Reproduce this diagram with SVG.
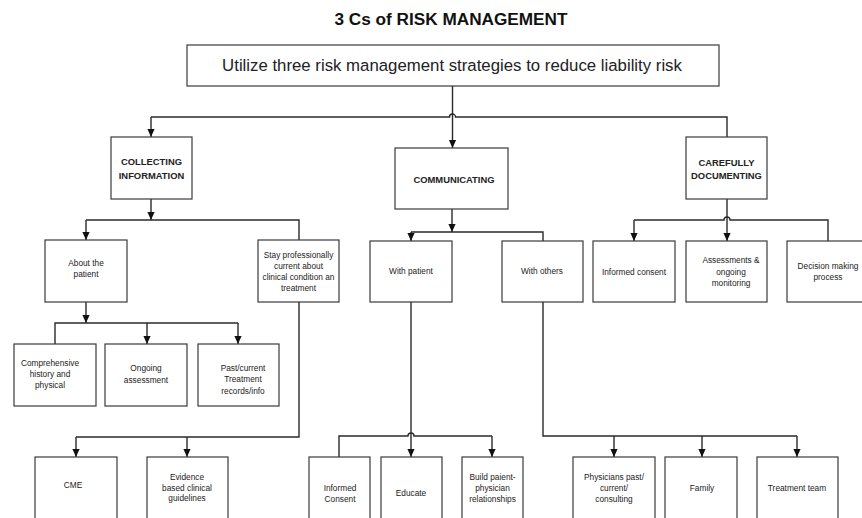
<svg xmlns="http://www.w3.org/2000/svg" width="862" height="518" viewBox="0 0 862 518">
<style>
  .bx{fill:#fff;stroke:#3a3a3a;stroke-width:1.2}
  .ln{fill:none;stroke:#2a2a2a;stroke-width:1.4}
  .ar{marker-end:url(#ah)}
  text{font-family:"Liberation Sans",Arial,sans-serif;fill:#222;text-anchor:middle}
  .t{font-size:8.3px}
  .b{font-size:9.4px;font-weight:bold}
</style>
<defs>
  <marker id="ah" markerUnits="userSpaceOnUse" markerWidth="8" markerHeight="9" viewBox="0 0 10 10" refX="10" refY="5" orient="auto">
    <path d="M0,0.5 L10,5 L0,9.5 z" fill="#111"/>
  </marker>
</defs>
<rect width="862" height="518" fill="#fff"/>
<text x="451" y="25" style="font-size:17.2px;font-weight:bold;fill:#111">3 Cs of RISK MANAGEMENT</text>

<g id="connectors">
  <path class="ln ar" d="M452.5,86 V148"/>
  <path class="ln" d="M151,117 H449.5 A3,3 0 0 1 455.5,117 H727 V137"/>
  <path class="ln ar" d="M151,117 V137"/>
  <path class="ln ar" d="M151,199 V220"/>
  <path class="ln" d="M86,220 H299 V240"/>
  <path class="ln ar" d="M86,220 V240"/>
  <path class="ln ar" d="M86,302 V323"/>
  <path class="ln" d="M55,344 V323 H238"/>
  <path class="ln ar" d="M147,323 V344"/>
  <path class="ln ar" d="M238,323 V344"/>
  <path class="ln" d="M299,302 V437 H76"/>
  <path class="ln ar" d="M76,437 V457"/>
  <path class="ln ar" d="M187,437 V457"/>
  <path class="ln ar" d="M452,209 V232"/>
  <path class="ln" d="M411,232 H543 V241"/>
  <path class="ln ar" d="M411,232 V241"/>
  <path class="ln ar" d="M411,302 V457"/>
  <path class="ln" d="M339,457 V436 H408 A3,3 0 0 1 414,436 H492"/>
  <path class="ln ar" d="M492,436 V457"/>
  <path class="ln" d="M543,302 V436 H797"/>
  <path class="ln ar" d="M614,436 V457"/>
  <path class="ln ar" d="M702,436 V457"/>
  <path class="ln ar" d="M797,436 V457"/>
  <path class="ln ar" d="M727,199 V241"/>
  <path class="ln" d="M634,220 H724 A3,3 0 0 1 730,220 H828 V241"/>
  <path class="ln ar" d="M634,220 V241"/>
</g>

<g id="main"><rect class="bx" x="187" y="45" width="532" height="41"/><text x="452" y="71" style="font-size:16.8px">Utilize three risk management strategies to reduce liability risk</text></g>

<g id="collecting"><rect class="bx" x="111" y="137" width="81" height="62"/><text class="b" x="151.5" y="165">COLLECTING</text><text class="b" x="151.5" y="178.5">INFORMATION</text></g>
<g id="communicating"><rect class="bx" x="395" y="148" width="113" height="61"/><text class="b" x="454" y="182.5">COMMUNICATING</text></g>
<g id="documenting"><rect class="bx" x="686" y="137" width="81" height="62"/><text class="b" x="726.5" y="165.5">CAREFULLY</text><text class="b" x="726.5" y="178.5">DOCUMENTING</text></g>

<g id="about"><rect class="bx" x="45" y="240" width="82" height="62"/><text class="t" x="86" y="266">About the</text><text class="t" x="86" y="277">patient</text></g>
<g id="stay"><rect class="bx" x="258" y="240" width="81" height="62"/><text class="t" x="298.5" y="258">Stay professionally</text><text class="t" x="298.5" y="269">current about</text><text class="t" x="298.5" y="280">clinical condition an</text><text class="t" x="298.5" y="291">treatment</text></g>
<g id="comprehensive"><rect class="bx" x="14" y="344" width="82" height="62"/><text class="t" x="50" y="366">Comprehensive</text><text class="t" x="50" y="377">history and</text><text class="t" x="50" y="388">physical</text></g>
<g id="ongoing"><rect class="bx" x="105" y="344" width="82" height="62"/><text class="t" x="146" y="371">Ongoing</text><text class="t" x="146" y="383">assessment</text></g>
<g id="past"><rect class="bx" x="198" y="344" width="81" height="62"/><text class="t" x="243" y="371">Past/current</text><text class="t" x="243" y="382">Treatment</text><text class="t" x="243" y="394">records/info</text></g>
<g id="cme"><rect class="bx" x="35" y="457" width="82" height="70"/><text class="t" x="73" y="488">CME</text></g>
<g id="evidence"><rect class="bx" x="147" y="457" width="81" height="70"/><text class="t" x="187" y="480">Evidence</text><text class="t" x="187" y="490.5">based clinical</text><text class="t" x="187" y="501">guidelines</text></g>

<g id="with-patient"><rect class="bx" x="370" y="241" width="82" height="61"/><text class="t" x="411" y="274">With patient</text></g>
<g id="with-others"><rect class="bx" x="502" y="241" width="81" height="61"/><text class="t" x="542" y="274">With others</text></g>
<g id="informed-consent-c"><rect class="bx" x="309" y="457" width="61" height="70"/><text class="t" x="340" y="491">Informed</text><text class="t" x="340" y="502">Consent</text></g>
<g id="educate"><rect class="bx" x="381" y="457" width="61" height="70"/><text class="t" x="411" y="496">Educate</text></g>
<g id="build"><rect class="bx" x="462" y="457" width="61" height="70"/><text class="t" x="492.5" y="480">Build paient-</text><text class="t" x="492.5" y="491">physician</text><text class="t" x="492.5" y="502">relationships</text></g>
<g id="physicians"><rect class="bx" x="573" y="457" width="82" height="70"/><text class="t" x="614" y="480">Physicians past/</text><text class="t" x="614" y="491">current/</text><text class="t" x="614" y="502">consulting</text></g>
<g id="family"><rect class="bx" x="665" y="457" width="72" height="70"/><text class="t" x="702" y="491">Family</text></g>
<g id="treatment"><rect class="bx" x="757" y="457" width="81" height="70"/><text class="t" x="797" y="491">Treatment team</text></g>

<g id="informed-consent-d"><rect class="bx" x="593" y="241" width="82" height="61"/><text class="t" x="634" y="275">Informed consent</text></g>
<g id="assessments"><rect class="bx" x="686" y="241" width="81" height="61"/><text class="t" x="731" y="263">Assessments &amp;</text><text class="t" x="731" y="275">ongoing</text><text class="t" x="731" y="286">monitoring</text></g>
<g id="decision"><rect class="bx" x="787" y="241" width="82" height="61"/><text class="t" x="828" y="269">Decision making</text><text class="t" x="828" y="280">process</text></g>
</svg>
